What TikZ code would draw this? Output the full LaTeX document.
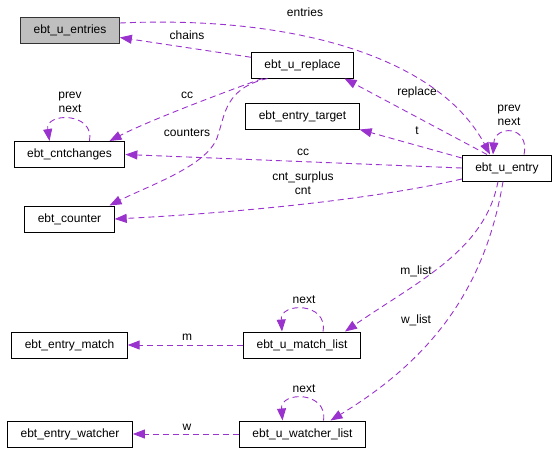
\documentclass[tikz,border=0pt]{standalone}
\usepackage{fontspec}
\setmainfont{Liberation Sans}
\usetikzlibrary{arrows.meta}
\definecolor{Edge}{HTML}{9A32CD}
\definecolor{RootFill}{HTML}{BFBFBF}
\tikzset{
  cls/.style={
    draw=black, line width=1pt, fill=white, minimum height=26pt,
    inner xsep=13pt, inner ysep=0pt, font=\fontsize{12}{14}\selectfont
  },
  rootcls/.style={cls, fill=RootFill, draw=black!80},
  uses/.style={-{Triangle[length=12pt,width=9pt]}, draw=Edge,
    line width=0.9pt, dash pattern=on 6pt off 4pt},
  lbl/.style={font=\fontsize{12}{14}\selectfont, inner sep=0pt, align=center}
}

\begin{document}
\begin{tikzpicture}[x=1pt,y=-1pt]
    \useasboundingbox (0,0) rectangle (559,453);
    % classes
    \node[rootcls] (entries) at (70,30) {ebt\_u\_entries};
    \node[cls] (replace) at (302.5,65) {ebt\_u\_replace};
    \node[cls] (target) at (302.5,116) {ebt\_entry\_target};
    \node[cls] (cntchanges) at (69.5,154.5) {ebt\_cntchanges};
    \node[cls] (entry) at (507,168) {ebt\_u\_entry};
    \node[cls] (counter) at (69.5,219) {ebt\_counter};
    \node[cls] (match) at (69.5,345) {ebt\_entry\_match};
    \node[cls] (matchlist) at (302,345) {ebt\_u\_match\_list};
    \node[cls] (watcher) at (70,434) {ebt\_entry\_watcher};
    \node[cls] (watcherlist) at (302.5,434) {ebt\_u\_watcher\_list};
    % members
    \draw[uses] (replace) -- (entries) node[lbl] at (187,35) {chains};
    \draw[uses] ([yshift=7pt]entries.east) .. controls (300,15) and (440,60) .. ([xshift=-17pt]entry.north)
      node[lbl] at (305,12) {entries};
    \draw[uses] ([xshift=-40pt]replace.south) .. controls (230,90) and (150,120) .. ([xshift=40pt]cntchanges.north)
      node[lbl] at (187,95) {cc};
    \draw[uses] ([xshift=-35pt]replace.south) .. controls (225,88) and (225,115) .. (218,135)
      .. controls (210,165) and (150,185) .. ([xshift=40pt]counter.north)
      node[lbl] at (187,133) {counters};
    \draw[uses] ([xshift=20pt]cntchanges.north) .. controls (95,112) and (45,112) .. ([xshift=-20pt]cntchanges.north)
      node[lbl] at (70,102) {prev\\next};
    \draw[uses] ([xshift=-20pt]entry.north) -- ([xshift=42pt]replace.south)
      node[lbl] at (417,92) {replace};
    \draw[uses] ([yshift=10pt]entry.west) -- (target.south east)
      node[lbl] at (417,131) {t};
    \draw[uses] (entry.west) -- (cntchanges.east)
      node[lbl] at (303,152) {cc};
    \draw[uses] ([yshift=-11pt]entry.west) .. controls (380,198) and (250,212) .. (counter.east)
      node[lbl] at (303,183) {cnt\_surplus\\cnt};
    \draw[uses] ([xshift=17pt]entry.north) .. controls (530,125) and (495,125) .. ([xshift=-14pt]entry.north)
      node[lbl] at (509,115) {prev\\next};
    \draw[uses] ([xshift=-9pt]entry.south) .. controls (485,250) and (420,280) .. ([xshift=43pt]matchlist.north)
      node[lbl] at (416,271) {m\_list};
    \draw[uses] ([xshift=-4pt]entry.south) .. controls (485,290) and (430,360) .. ([xshift=28pt]watcherlist.north)
      node[lbl] at (416,320) {w\_list};
    \draw[uses] ([xshift=21pt]matchlist.north) .. controls (328,302) and (280,302) .. ([xshift=-20pt]matchlist.north)
      node[lbl] at (304,300) {next};
    \draw[uses] ([xshift=21pt]watcherlist.north) .. controls (328,391) and (280,391) .. ([xshift=-20pt]watcherlist.north)
      node[lbl] at (304,389) {next};
    \draw[uses] (matchlist) -- (match) node[lbl] at (187,337) {m};
    \draw[uses] (watcherlist) -- (watcher) node[lbl] at (187,427) {w};
\end{tikzpicture}
\end{document}
